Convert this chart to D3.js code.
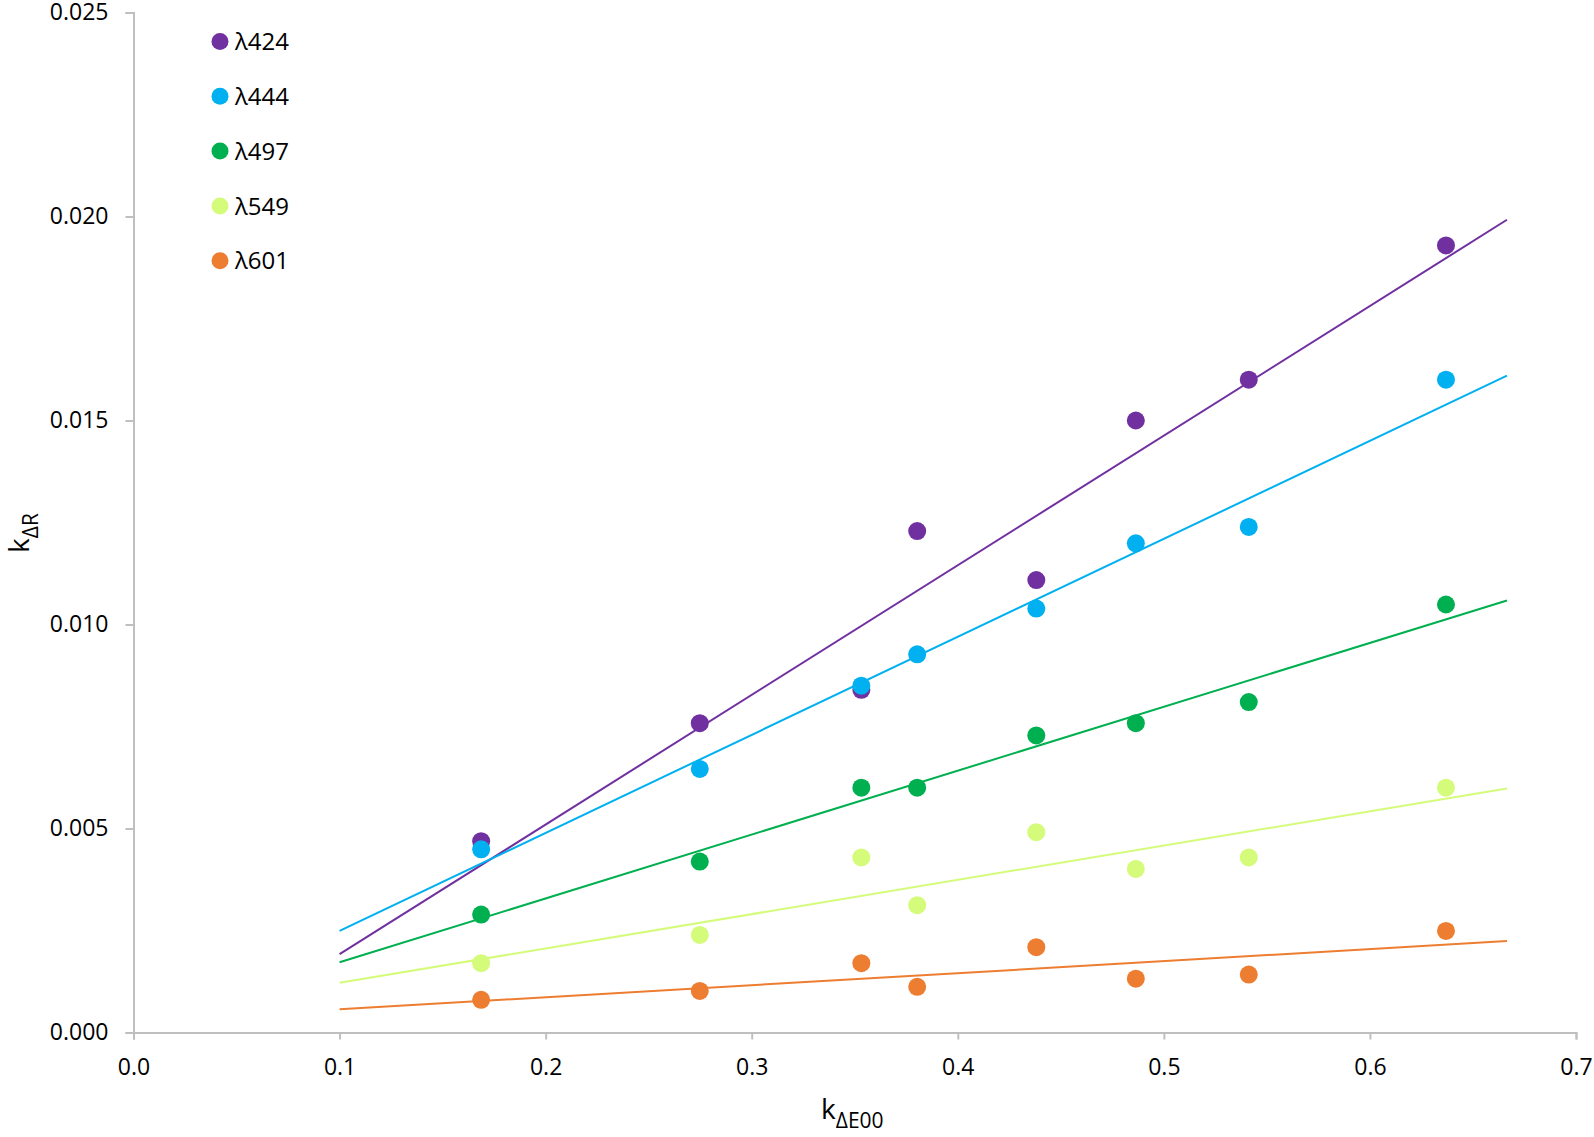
<!DOCTYPE html>
<html>
<head>
<meta charset="utf-8">
<script src="https://cdn.jsdelivr.net/npm/d3@7"></script>
<style>
  body { margin: 0; background: #fff; }
  svg text { font-family: "Open Sans", sans-serif; fill: #000; }
</style>
</head>
<body>
<div id="chart"></div>
<script>
// x values shared by all series
const kE00 = [0.1687, 0.2748, 0.3532, 0.3803, 0.4381, 0.4864, 0.5412, 0.6369];

// series names and colours
const seriesNames = ["λ424", "λ444", "λ497", "λ549", "λ601"];
const seriesColors = ["#7030A0", "#00B0F0", "#00B050", "#D4FB79", "#ED7D31"];

// kΔR values
const l424 = [0.00469, 0.00758, 0.0084, 0.01229, 0.01109, 0.0150, 0.0160, 0.01929];
const l444 = [0.00449, 0.00646, 0.0085, 0.00927, 0.01039, 0.01199, 0.01239, 0.0160];
const l497 = [0.00289, 0.00419, 0.0060, 0.0060, 0.00728, 0.00758, 0.0081, 0.01049];
const l549 = [0.0017, 0.00239, 0.00429, 0.00312, 0.00491, 0.00401, 0.00429, 0.0060];
const l601 = [0.0008, 0.00102, 0.0017, 0.00112, 0.00209, 0.00132, 0.00142, 0.00249];

// linear trendlines: ends at x = trendX
const trendX = [0.1, 0.6665];
const trend424 = [0.00192, 0.01992];
const trend444 = [0.00249, 0.0161];
const trend497 = [0.00172, 0.01059];
const trend549 = [0.00122, 0.00598];
const trend601 = [0.00057, 0.00224];

const xTicks = [0, 0.1, 0.2, 0.3, 0.4, 0.5, 0.6, 0.7];
const yTicks = [0, 0.005, 0.01, 0.015, 0.02, 0.025];

const series = seriesNames.map((name, i) => ({
    name: name,
    color: seriesColors[i],
    values: [l424, l444, l497, l549, l601][i],
    trend: [trend424, trend444, trend497, trend549, trend601][i]
}));

const W = 1594, H = 1137;
const margin = {top: 12.5, right: 18, bottom: 104.5, left: 133.5};
const width = W - margin.left - margin.right,
      height = H - margin.top - margin.bottom;

const svg = d3.select("#chart")
    .append("svg")
        .attr("width", W)
        .attr("height", H);

const g = svg.append("g")
    .attr("transform", "translate(" + margin.left + "," + margin.top + ")");

const x = d3.scaleLinear().domain([0, 0.7]).range([0, width]);
const y = d3.scaleLinear().domain([0, 0.025]).range([height, 0]);

// axes
const xAxis = g.append("g")
    .attr("transform", "translate(0," + height + ")")
    .call(d3.axisBottom(x).tickValues(xTicks).tickFormat(d3.format(".1f")).tickSize(7).tickPadding(19));
const yAxis = g.append("g")
    .call(d3.axisLeft(y).tickValues(yTicks).tickFormat(d3.format(".3f")).tickSize(8).tickPadding(17));

[xAxis, yAxis].forEach(a => {
    a.selectAll("path, line").attr("stroke", "#BFBFBF").attr("stroke-width", 2);
    a.selectAll("text").attr("font-size", 23).attr("fill", "#000")
        .style("font-family", "'Open Sans', sans-serif");
});

// trendlines
const line = d3.line().x(d => x(d[0])).y(d => y(d[1]));
g.selectAll(".trend")
    .data(series)
    .enter()
    .append("path")
        .attr("class", "trend")
        .attr("fill", "none")
        .attr("stroke", d => d.color)
        .attr("stroke-width", 2)
        .attr("d", d => line(trendX.map((t, i) => [t, d.trend[i]])));

// points
series.forEach(s => {
    g.selectAll(null)
        .data(s.values.map((v, i) => [kE00[i], v]))
        .enter()
        .append("circle")
            .attr("cx", d => x(d[0]))
            .attr("cy", d => y(d[1]))
            .attr("r", 9)
            .attr("fill", s.color);
});

// legend
const legend = svg.append("g").attr("transform", "translate(220,41.5)");
const item = legend.selectAll("g")
    .data(series)
    .enter()
    .append("g")
        .attr("transform", (d, i) => "translate(0," + (i * 54.8) + ")");
item.append("circle").attr("r", 8.5).attr("fill", d => d.color);
item.append("text")
    .attr("x", 15)
    .attr("dy", "0.36em")
    .attr("font-size", 24)
    .text(d => d.name);

// axis titles
const xTitle = svg.append("text")
    .attr("x", 821)
    .attr("y", 1119)
    .attr("font-size", 28);
xTitle.append("tspan").text("k");
xTitle.append("tspan").attr("dy", 9).attr("font-size", 21).text("ΔE00");

const yTitle = svg.append("text")
    .attr("transform", "translate(29,553) rotate(-90)")
    .attr("font-size", 28);
yTitle.append("tspan").text("k");
yTitle.append("tspan").attr("dy", 9).attr("font-size", 21).text("ΔR");
</script>
</body>
</html>
